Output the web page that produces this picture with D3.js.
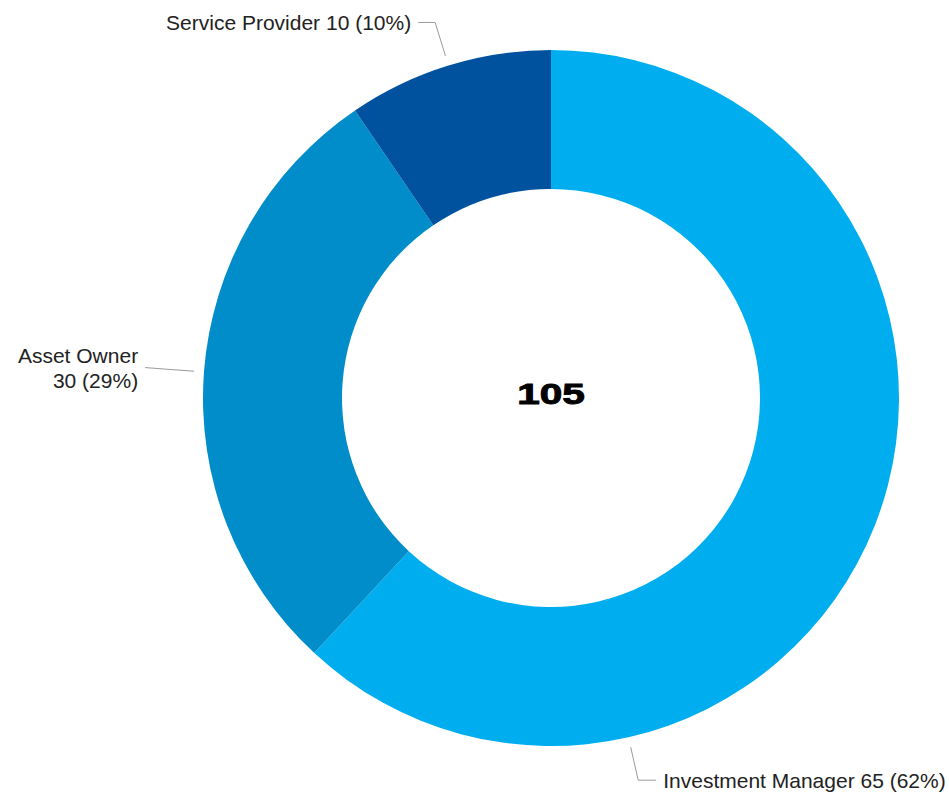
<!DOCTYPE html>
<html>
<head>
<meta charset="utf-8">
<script src="https://cdn.jsdelivr.net/npm/d3@7"></script>
<style>
  body { margin: 0; background: #fff; }
  text { font-family: "Liberation Sans", Arial, sans-serif; }
</style>
</head>
<body>
<div id="chart"></div>
<script>
const categories = ["Investment Manager", "Asset Owner", "Service Provider"];
const values = [65, 30, 10];
const sliceColors = ["#00AEEF", "#008DC9", "#00529F"];

// label placement: where along the slice the leader starts, how far it runs, tail and wrap
const labelLayout = [
  { frac: 0.75, bendR: 392, tail: 18, wrap: false },
  { frac: 0.5, bendR: 407, tail: 0, wrap: true },
  { frac: 0.5, bendR: 393, tail: -17, wrap: false }
];

const width = 949, height = 793;
const cx = 551, cy = 398;
const outerR = 348, innerR = 209;

const svg = d3.select("#chart").append("svg")
  .attr("width", width)
  .attr("height", height);

const total = d3.sum(values);
const data = categories.map((c, i) => ({ name: c, value: values[i], color: sliceColors[i], layout: labelLayout[i] }));

const pie = d3.pie().sort(null).value(d => d.value);
const arc = d3.arc().innerRadius(innerR).outerRadius(outerR);
const arcs = pie(data);

const g = svg.append("g").attr("transform", `translate(${cx},${cy})`);

g.selectAll("path.slice")
  .data(arcs)
  .enter()
  .append("path")
  .attr("class", "slice")
  .attr("d", arc)
  .attr("fill", d => d.data.color);

function polar(a, r) {
  return [r * Math.sin(a), -r * Math.cos(a)];
}

// leader lines + labels
arcs.forEach(d => {
  const L = d.data.layout;
  const a = d.startAngle + (d.endAngle - d.startAngle) * L.frac;
  const p0 = polar(a, outerR + 10);
  const p1 = polar(a, L.bendR);
  const p2 = [p1[0] + L.tail, p1[1]];
  g.append("path")
    .attr("d", d3.line()([p0, p1, p2]))
    .attr("fill", "none")
    .attr("stroke", "#9a9a9a")
    .attr("stroke-width", 1);

  const right = p2[0] > p1[0] || (L.tail === 0 && p1[0] > 0);
  const tx = p2[0] + (right ? 7 : -7);
  const pct = Math.round(d.data.value / total * 100);
  const label = `${d.data.name} ${d.data.value} (${pct}%)`;
  const t = g.append("text")
    .attr("x", tx)
    .attr("font-size", 21)
    .attr("fill", "#222")
    .attr("text-anchor", right ? "start" : "end");
  if (L.wrap) {
    t.attr("y", p2[1] - 5);
    t.append("tspan").attr("x", tx).text(d.data.name);
    t.append("tspan").attr("x", tx).attr("dy", 25).text(`${d.data.value} (${pct}%)`);
  } else {
    t.attr("y", p2[1] + 8).text(label);
  }
});

// total in the hole
g.append("text")
  .attr("text-anchor", "middle")
  .attr("transform", "translate(0,6) scale(1.4,1)")
  .attr("font-size", 29)
  .attr("font-weight", "bold")
  .attr("fill", "#000")
  .attr("stroke", "#000")
  .attr("stroke-width", 0.9)
  .text(total);
</script>
</body>
</html>
